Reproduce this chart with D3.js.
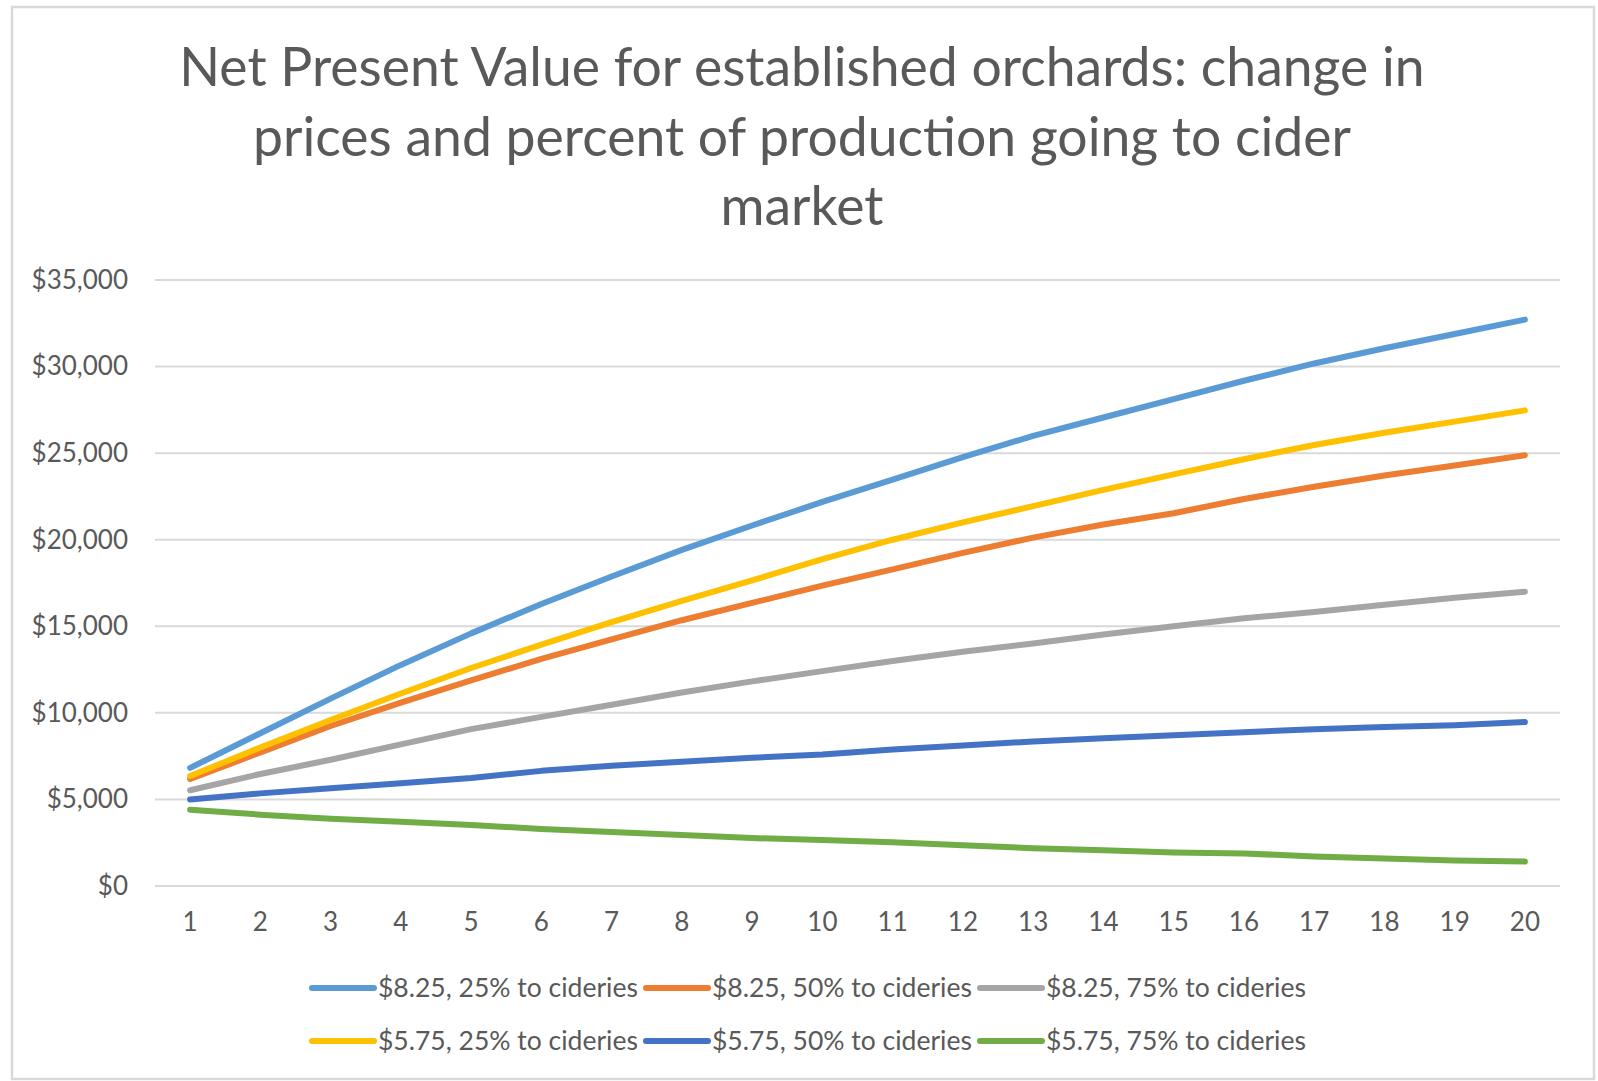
<!DOCTYPE html>
<html>
<head>
<meta charset="utf-8">
<script src="https://cdn.jsdelivr.net/npm/d3@7"></script>
<style>
  body { margin:0; background:#fff; }
  svg { display:block; font-family: Lato, "Open Sans", sans-serif; }
</style>
</head>
<body>
<svg id="chart"></svg>
<script>
      var width = 1598;
      var height = 1081;
      var margin = {top:280, left:155, right:38, bottom:195};

      // data
      var years = [1,2,3,4,5,6,7,8,9,10,11,12,13,14,15,16,17,18,19,20];
      var yTicks = [0,5000,10000,15000,20000,25000,30000,35000];
      var titleLines = ['Net Present Value for established orchards: change in',
                        'prices and percent of production going to cider',
                        'market'];
      var seriesNames = ['$8.25, 25% to cideries','$8.25, 50% to cideries','$8.25, 75% to cideries',
                         '$5.75, 25% to cideries','$5.75, 50% to cideries','$5.75, 75% to cideries'];
      var seriesColors = ['#5b9bd5','#ed7d31','#a5a5a5','#ffc000','#4472c4','#70ad47'];
      var hi25 = [6820,8820,10820,12770,14590,16290,17880,19410,20820,22180,23470,24770,26000,27060,28120,29180,30180,31060,31880,32710];
      var hi50 = [6180,7710,9240,10590,11880,13120,14240,15350,16350,17350,18290,19240,20120,20880,21530,22350,23060,23710,24290,24880];
      var hi75 = [5530,6470,7290,8180,9060,9770,10470,11180,11820,12410,13000,13530,14000,14530,15000,15470,15820,16240,16650,17000];
      var lo25 = [6350,8000,9590,11120,12590,13940,15240,16470,17650,18880,20000,21000,21940,22880,23770,24650,25470,26180,26820,27470];
      var lo50 = [5000,5350,5650,5940,6240,6650,6940,7180,7410,7590,7880,8120,8350,8530,8710,8880,9060,9180,9290,9470];
      var lo75 = [4410,4120,3880,3710,3530,3290,3120,2940,2770,2650,2530,2350,2180,2060,1940,1880,1710,1590,1470,1410];
      var seriesValues = [hi25,hi50,hi75,lo25,lo50,lo75];

      var xwidth = width-margin.left-margin.right;
      var yheight = height-margin.top-margin.bottom;

      var svg = d3.select('#chart').attr('width',width).attr('height',height);

      // chart border
      svg.append('rect').attr('x',12).attr('y',7).attr('width',1582).attr('height',1072)
         .attr('fill','#fff').attr('stroke','#d9d9d9').attr('stroke-width',2.5);

      // title
      svg.append('g').selectAll('text').data(titleLines).enter()
         .append('text')
         .attr('x',802)
         .attr('y',function(d,i){ return 86+i*69.5; })
         .attr('text-anchor','middle')
         .attr('fill','#595959')
         .style('font-size','53.5px')
         .text(function(d){ return d; });

      var xscale = d3.scaleBand().domain(years).range([0,xwidth]);
      var yscale = d3.scaleLinear().domain([0,35000]).range([yheight,0]);

      var plot = svg.append('g').attr('transform','translate('+margin.left+','+margin.top+')');

      // gridlines
      plot.append('g').selectAll('line').data(yTicks).enter()
          .append('line')
          .attr('x1',0).attr('x2',xwidth)
          .attr('y1',function(d){ return yscale(d); })
          .attr('y2',function(d){ return yscale(d); })
          .attr('stroke','#d9d9d9').attr('stroke-width',2);

      var fmt = d3.format('$,');
      var yaxis = d3.axisLeft(yscale).tickValues(yTicks).tickSize(0).tickPadding(27).tickFormat(function(d){ return fmt(d); });
      var xaxis = d3.axisBottom(xscale).tickSize(0).tickPadding(27);

      var ya = plot.append('g').attr('class','axis').call(yaxis);
      var xa = plot.append('g').attr('class','axis').attr('transform','translate(0,'+yheight+')').call(xaxis);
      ya.select('.domain').remove();
      xa.select('.domain').remove();
      svg.selectAll('.axis text').attr('fill','#595959').style('font-size','26px').style('font-family','Lato, sans-serif');

      // lines
      var line = d3.line()
          .x(function(d,i){ return xscale(years[i])+xscale.bandwidth()/2; })
          .y(function(d){ return yscale(d); });

      plot.append('g').selectAll('path').data(seriesValues).enter()
          .append('path')
          .attr('d',line)
          .attr('fill','none')
          .attr('stroke',function(d,i){ return seriesColors[i]; })
          .attr('stroke-width',6)
          .attr('stroke-linecap','round')
          .attr('stroke-linejoin','round');

      // legend
      var legend = svg.append('g');
      var items = legend.selectAll('g').data(seriesNames).enter()
          .append('g')
          .attr('transform',function(d,i){
                return 'translate('+(312+(i%3)*334)+','+(988+Math.floor(i/3)*53)+')';
          });
      items.append('line').attr('x1',0).attr('x2',62).attr('y1',0).attr('y2',0)
           .attr('stroke',function(d,i){ return seriesColors[i]; })
           .attr('stroke-width',6).attr('stroke-linecap','round');
      items.append('text').attr('x',66).attr('y',0).attr('dy','0.35em')
           .attr('fill','#595959').style('font-size','26.5px')
           .text(function(d){ return d; });
</script>
</body>
</html>
